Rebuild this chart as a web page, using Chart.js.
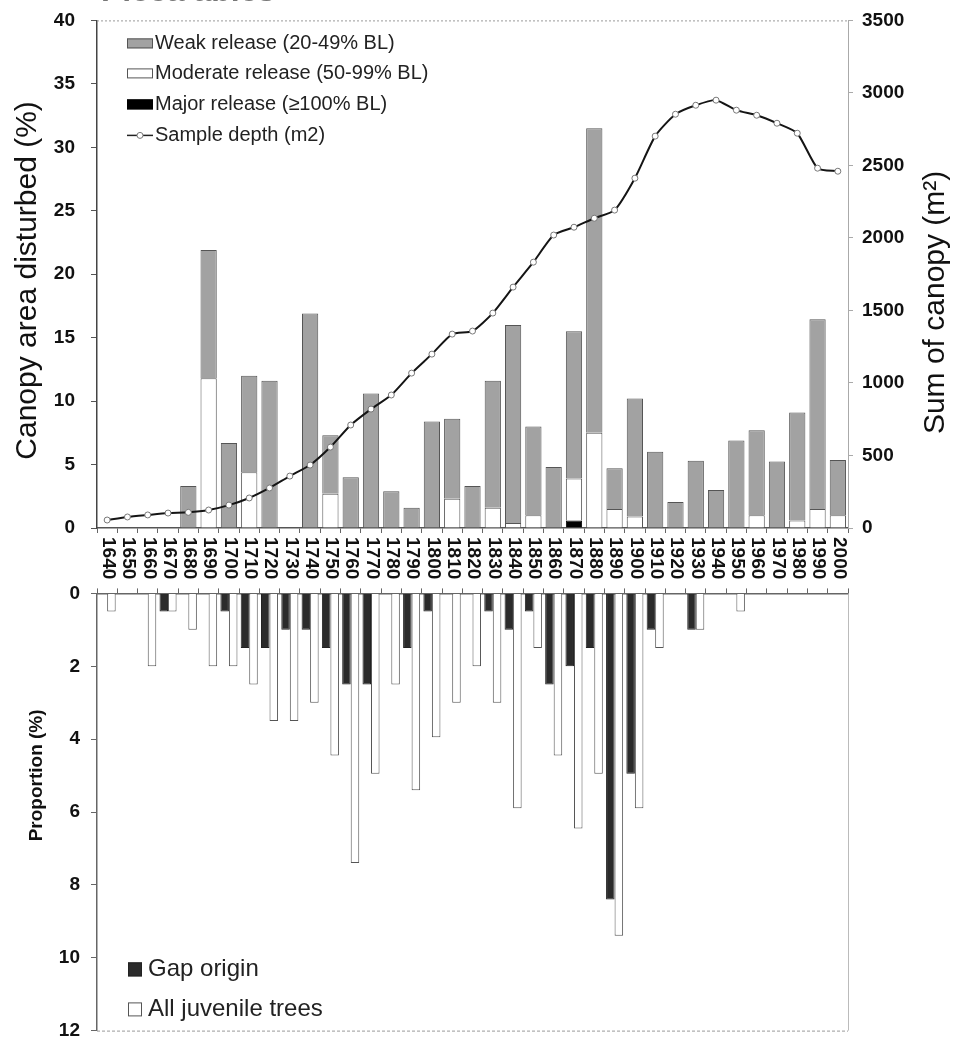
<!DOCTYPE html>
<html>
<head>
<meta charset="utf-8">
<script src="https://cdn.jsdelivr.net/npm/chart.js@4.4.1/dist/chart.umd.min.js"></script>
<style>
  body { margin: 0; background: #fff; overflow: hidden; }
  canvas { position: absolute; left: 0; }
  /* tick padding pushes the plot down, so the canvases are nudged to line up */
  #releaseChart { top: -7px; }
  #originChart { top: 571px; }
</style>
</head>
<body>
<canvas id="releaseChart" width="957" height="597"></canvas>
<canvas id="originChart" width="957" height="482"></canvas>
<script>
// decades on the shared x axis
const years = ['1640', '1650', '1660', '1670', '1680', '1690', '1700', '1710', '1720', '1730',
  '1740', '1750', '1760', '1770', '1780', '1790', '1800', '1810', '1820', '1830',
  '1840', '1850', '1860', '1870', '1880', '1890', '1900', '1910', '1920', '1930',
  '1940', '1950', '1960', '1970', '1980', '1990', '2000'];

// canopy area disturbed (%), stacked: major at the bottom, weak on top
const majorRelease = [0, 0, 0, 0, 0, 0, 0, 0, 0, 0,
  0, 0, 0, 0, 0, 0, 0, 0, 0, 0,
  0, 0, 0, 0.6, 0, 0, 0, 0, 0, 0,
  0, 0, 0, 0, 0, 0, 0];
const moderateRelease = [0, 0, 0, 0, 0, 11.8, 0, 4.4, 0, 0,
  0, 2.7, 0, 0, 0, 0, 0, 2.3, 0, 1.6,
  0.4, 1.0, 0, 3.3, 7.5, 1.5, 0.9, 0, 0, 0,
  0, 0, 1.0, 0, 0.6, 1.5, 1.0];
const weakRelease = [0, 0, 0, 0, 3.3, 10.1, 6.7, 7.6, 11.6, 0,
  16.9, 4.6, 4.0, 10.6, 2.9, 1.6, 8.4, 6.3, 3.3, 10.0,
  15.6, 7.0, 4.8, 11.6, 24.0, 3.2, 9.3, 6.0, 2.05, 5.3,
  3.0, 6.9, 6.7, 5.25, 8.5, 14.95, 4.35];

// sample depth (m2), right axis
const sampleDepth = [55, 76, 90, 103, 108, 124, 158, 207, 276, 358,
  434, 558, 710, 820, 917, 1068, 1199, 1337, 1358, 1482,
  1661, 1833, 2020, 2074, 2136, 2192, 2412, 2702, 2853, 2915,
  2950, 2881, 2846, 2791, 2722, 2481, 2460];

// proportion (%) in the lower panel
const gapOrigin = [0, 0, 0, 0.5, 0, 0, 0.5, 1.5, 1.5, 1.0,
  1.0, 1.5, 2.5, 2.5, 0, 1.5, 0.5, 0, 0, 0.5,
  1.0, 0.5, 2.5, 2.0, 1.5, 8.4, 4.95, 1.0, 0, 1.0,
  0, 0, 0, 0, 0, 0, 0];
const juvenileTrees = [0.5, 0, 2.0, 0.5, 1.0, 2.0, 2.0, 2.5, 3.5, 3.5,
  3.0, 4.45, 7.4, 4.95, 2.5, 5.4, 3.95, 3.0, 2.0, 3.0,
  5.9, 1.5, 4.45, 6.45, 4.95, 9.4, 5.9, 1.5, 0, 1.0,
  0, 0.5, 0, 0, 0, 0, 0];

const FONT = '"Liberation Sans", Arial, sans-serif';
const INK = '#111';
const GREY = '#a2a2a2';
const EDGE = '#555';

// empty decades get no bar at all
function nz(arr) {
  return arr.map(v => (v === 0 ? null : v));
}

function vText(ctx, text, x, y, angle, font) {
  ctx.save();
  ctx.translate(x, y);
  ctx.rotate(angle);
  ctx.font = font;
  ctx.fillText(text, 0, 0);
  ctx.restore();
}

function legendBox(ctx, x, y, w, h, fill, stroke) {
  ctx.fillStyle = fill;
  ctx.fillRect(x, y, w, h);
  ctx.strokeStyle = stroke;
  ctx.lineWidth = 1;
  ctx.strokeRect(x + 0.5, y + 0.5, w - 1, h - 1);
}

const releaseDecor = {
  id: 'releaseDecor',
  afterDraw(chart) {
    const { ctx, chartArea: a, scales } = chart;
    const t = a.top;
    ctx.save();

    // dotted top frame
    ctx.strokeStyle = '#999';
    ctx.lineWidth = 1;
    ctx.setLineDash([2, 2]);
    ctx.beginPath();
    ctx.moveTo(a.left, t + 0.5);
    ctx.lineTo(a.right, t + 0.5);
    ctx.stroke();
    ctx.setLineDash([]);

    // cut-off heading at the very top (only its lower edge is on the page)
    ctx.fillStyle = '#777';
    ctx.textAlign = 'left';
    ctx.textBaseline = 'alphabetic';
    ctx.font = 'bold 32px ' + FONT;
    ctx.fillText('Picea abies', 101, t - 19);

    // decade labels, turned clockwise, between the two panels
    ctx.fillStyle = INK;
    ctx.textAlign = 'left';
    ctx.textBaseline = 'middle';
    years.forEach((yr, i) => {
      vText(ctx, yr, scales.x.getPixelForValue(i) + 1, a.bottom + 9, Math.PI / 2, 'bold 19px ' + FONT);
    });

    // axis titles
    ctx.textAlign = 'center';
    vText(ctx, 'Canopy area disturbed (%)', 28, t + 260, -Math.PI / 2, '30px ' + FONT);
    vText(ctx, 'Sum of canopy (m\u00b2)', 936, t + 282, -Math.PI / 2, '30px ' + FONT);

    // legend in the top-left corner of the plot
    ctx.textAlign = 'left';
    ctx.font = '20px ' + FONT;
    const lx = 127, tx = 155;
    const rows = [t + 23, t + 53, t + 84, t + 115];
    legendBox(ctx, lx, rows[0] - 5, 26, 10, GREY, EDGE);
    legendBox(ctx, lx, rows[1] - 5, 26, 10, '#fff', EDGE);
    legendBox(ctx, lx, rows[2] - 5, 26, 10, '#000', '#000');
    ctx.strokeStyle = '#222';
    ctx.lineWidth = 1.5;
    ctx.beginPath();
    ctx.moveTo(lx, rows[3]);
    ctx.lineTo(lx + 26, rows[3]);
    ctx.stroke();
    ctx.beginPath();
    ctx.arc(lx + 13, rows[3], 3, 0, Math.PI * 2);
    ctx.fillStyle = '#fff';
    ctx.fill();
    ctx.strokeStyle = '#777';
    ctx.lineWidth = 1;
    ctx.stroke();
    ctx.fillStyle = '#222';
    ctx.fillText('Weak release (20-49% BL)', tx, rows[0]);
    ctx.fillText('Moderate release (50-99% BL)', tx, rows[1]);
    ctx.fillText('Major release (\u2265100% BL)', tx, rows[2]);
    ctx.fillText('Sample depth (m2)', tx, rows[3]);

    ctx.restore();
  }
};

const originDecor = {
  id: 'originDecor',
  afterDraw(chart) {
    const { ctx, chartArea: a } = chart;
    const t = a.top;
    ctx.save();

    // thin right frame and dashed bottom frame
    ctx.strokeStyle = '#bbb';
    ctx.lineWidth = 1;
    ctx.beginPath();
    ctx.moveTo(a.right + 0.5, t);
    ctx.lineTo(a.right + 0.5, a.bottom);
    ctx.stroke();
    ctx.strokeStyle = '#999';
    ctx.setLineDash([3, 2]);
    ctx.beginPath();
    ctx.moveTo(a.left, a.bottom + 0.5);
    ctx.lineTo(a.right, a.bottom + 0.5);
    ctx.stroke();
    ctx.setLineDash([]);

    ctx.fillStyle = INK;
    ctx.textAlign = 'center';
    ctx.textBaseline = 'middle';
    vText(ctx, 'Proportion (%)', 37, t + 182, -Math.PI / 2, 'bold 19px ' + FONT);

    // legend in the lower-left corner
    legendBox(ctx, 128, t + 369, 14, 14, '#2b2b2b', '#222');
    legendBox(ctx, 128, t + 409, 14, 14, '#fff', EDGE);
    ctx.fillStyle = '#222';
    ctx.textAlign = 'left';
    ctx.font = '24px ' + FONT;
    ctx.fillText('Gap origin', 148, t + 376);
    ctx.fillText('All juvenile trees', 148, t + 416);

    ctx.restore();
  }
};

function renderCharts() {
  new Chart(document.getElementById('releaseChart'), {
    type: 'bar',
    data: {
      labels: years,
      datasets: [
        {
          type: 'line',
          label: 'Sample depth (m2)',
          data: sampleDepth,
          yAxisID: 'y1',
          order: 0,
          borderColor: '#151515',
          borderWidth: 2,
          tension: 0.2,
          pointRadius: 3,
          pointBackgroundColor: '#fff',
          pointBorderColor: '#777',
          pointBorderWidth: 1,
        },
        {
          label: 'Major release (\u2265100% BL)',
          data: nz(majorRelease),
          backgroundColor: '#000',
          borderColor: '#000',
          borderWidth: 1,
          order: 1,
        },
        {
          label: 'Moderate release (50-99% BL)',
          data: nz(moderateRelease),
          backgroundColor: '#fff',
          borderColor: EDGE,
          borderWidth: 1,
          order: 1,
        },
        {
          label: 'Weak release (20-49% BL)',
          data: nz(weakRelease),
          backgroundColor: GREY,
          borderColor: EDGE,
          borderWidth: 1,
          order: 1,
        },
      ],
    },
    options: {
      responsive: false,
      animation: false,
      layout: { padding: 0 },
      datasets: { bar: { categoryPercentage: 1, barPercentage: 0.8 } },
      plugins: { legend: { display: false }, tooltip: { enabled: false } },
      scales: {
        x: {
          stacked: true,
          ticks: { display: false },
          grid: { drawOnChartArea: false, drawTicks: true, tickLength: 5, color: '#666', offset: true },
          border: { color: '#555', width: 1.5 },
          afterFit: s => { s.height = 62; },
        },
        y: {
          stacked: true,
          position: 'left',
          min: 0,
          max: 40,
          ticks: { stepSize: 5, color: INK, padding: 16, font: { family: FONT, size: 19, weight: 'bold' } },
          grid: { drawOnChartArea: false, tickLength: 6, color: '#555' },
          border: { color: '#444', width: 1.5 },
          afterFit: s => { s.width = 97; },
        },
        y1: {
          position: 'right',
          min: 0,
          max: 3500,
          ticks: {
            stepSize: 500,
            color: INK,
            padding: 9,
            font: { family: FONT, size: 19, weight: 'bold' },
            callback: v => String(v),
          },
          grid: { drawOnChartArea: false, tickLength: 5, color: '#aaa' },
          border: { color: '#aaa', width: 1 },
          afterFit: s => { s.width = 109; },
        },
      },
    },
    plugins: [releaseDecor],
  });

  new Chart(document.getElementById('originChart'), {
    type: 'bar',
    data: {
      labels: years,
      datasets: [
        {
          label: 'Gap origin',
          data: nz(gapOrigin),
          backgroundColor: '#2b2b2b',
          borderColor: '#222',
          borderWidth: 1,
        },
        {
          label: 'All juvenile trees',
          data: nz(juvenileTrees),
          backgroundColor: '#fff',
          borderColor: EDGE,
          borderWidth: 1,
        },
      ],
    },
    options: {
      responsive: false,
      animation: false,
      layout: { padding: { top: 0, left: 0, right: 109, bottom: 0 } },
      datasets: { bar: { categoryPercentage: 0.84, barPercentage: 1 } },
      plugins: { legend: { display: false }, tooltip: { enabled: false } },
      scales: {
        x: {
          position: 'top',
          ticks: { display: false },
          grid: { drawOnChartArea: false, drawTicks: true, tickLength: 5, color: '#666', offset: true },
          border: { color: '#666', width: 1.5 },
          afterFit: s => { s.height = 8; },
        },
        y: {
          reverse: true,
          min: 0,
          max: 12,
          ticks: { stepSize: 2, color: INK, padding: 11, font: { family: FONT, size: 19, weight: 'bold' } },
          grid: { drawOnChartArea: false, tickLength: 6, color: '#666' },
          border: { color: '#666', width: 1.5 },
          afterFit: s => { s.width = 97; },
        },
      },
    },
    plugins: [originDecor],
  });
}

document.addEventListener('DOMContentLoaded', renderCharts);
</script>
</body>
</html>
